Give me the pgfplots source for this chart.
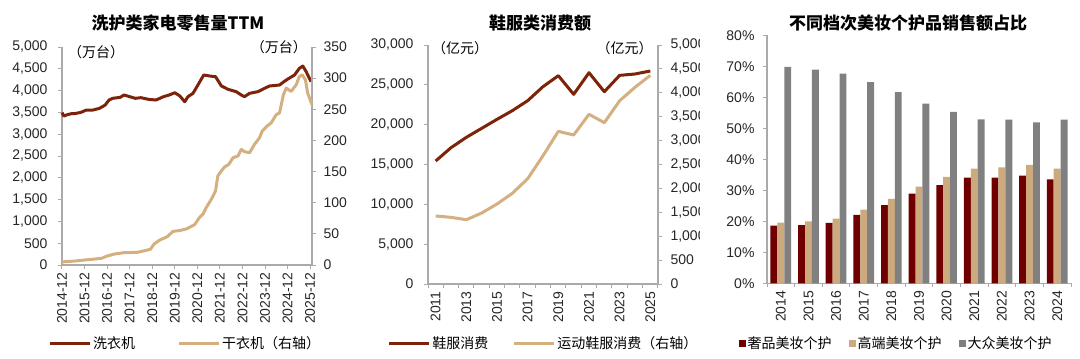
\documentclass[border=0pt]{standalone}
\usepackage{fontspec}
\setmainfont{Liberation Sans}
\newfontfamily\cjk{Noto Sans CJK SC}
\usepackage{pgfplots}
\pgfplotsset{compat=1.18}
\definecolor{brownline}{RGB}{125,35,10}
\definecolor{tanline}{RGB}{212,176,128}
\definecolor{axisgray}{RGB}{170,170,170}
\definecolor{lux}{RGB}{112,0,0}
\definecolor{high}{RGB}{204,170,125}
\definecolor{mass}{RGB}{128,128,128}
\pgfplotsset{
  base/.style={scale only axis, clip=false,
    axis line style={axisgray, line width=1.2pt},
    tick style={axisgray, line width=1pt},
    major tick length=4pt, minor tick length=4pt, tick align=outside,
    ticklabel style={font=\fontsize{14}{16}\selectfont, text=black!85},
    /pgf/number format/assume math mode=true,
    /pgf/number format/1000 sep={,},
    scaled y ticks=false},
  linelegend/.style={legend image code/.code={\draw[##1] (0pt,0pt) -- (40pt,0pt);}},
}
\begin{document}
\begin{tikzpicture}
\useasboundingbox (0,0) rectangle (1080pt,-359pt);
% ---------------- Panel 1 ----------------
\node[font=\cjk\bfseries\fontsize{17}{20}\selectfont] at (178pt,-23pt) {洗护类家电零售量TTM};
\begin{axis}[base, at={(62pt,-265pt)}, anchor=south west, width=250pt, height=218pt,
  xmin=0, xmax=133, ymin=0, ymax=5000,
  axis x line*=bottom, axis y line*=left,
  ytick={0,500,...,5000}, yticklabel style={xshift=-7pt},
  xtick={0,12,...,132},
  xticklabels={2014-12,2015-12,2016-12,2017-12,2018-12,2019-12,2020-12,2021-12,2022-12,2023-12,2024-12,2025-12},
  xticklabel style={rotate=90, anchor=east}]
\addplot[brownline, line width=3pt, line join=round] coordinates {
(0,3495)(1,3417)(3,3450)(5,3470)(7,3475)(10,3500)(13,3555)(16,3550)(20,3594)(23,3670)
(25,3784)(27,3823)(31,3846)(33,3899)(36,3861)(39,3823)(42,3838)(46,3800)(50,3784)(54,3861)
(57,3899)(60,3952)(62.6,3880)(65.3,3745)(67,3861)(69.7,3938)(72.3,4128)(75.4,4358)(78.6,4335)(81.7,4319)
(84.8,4106)(88.3,4030)(92.7,3975)(95.4,3899)(97.1,3861)(99.8,3938)(104.2,3975)(107.7,4052)(110.4,4106)(115.7,4128)
(119.3,4243)(123.7,4358)(126.3,4511)(128.1,4564)(129.9,4434)(132.5,4204)};
\node[anchor=west, font=\cjk\fontsize{14}{16}\selectfont, inner sep=0pt] at (rel axis cs:0.024,0.977) {（万台）};
\end{axis}
\begin{axis}[base, at={(62pt,-265pt)}, anchor=south west, width=250pt, height=218pt,
  xmin=0, xmax=133, ymin=0, ymax=350,
  axis x line=none, axis y line*=right,
  ytick={0,50,...,350}, yticklabel style={xshift=4pt},
  linelegend,
  legend style={draw=none, fill=none, at={(-0.056,-0.358)}, anchor=west, inner sep=0pt,
    font=\cjk\fontsize{14}{16}\selectfont, nodes={inner sep=2pt}},
  legend columns=2, legend cell align=left,
  legend style={/tikz/every even column/.append style={column sep=40pt}}]
\addlegendimage{brownline, line width=3pt}
\addlegendentry{洗衣机}
\addplot[tanline, line width=3pt, line join=round] coordinates {
(0,5)(7,6.4)(12,8)(17.5,9.6)(21,10.7)(24,14.4)(28,17.7)(33,19.8)(40,20.3)(44,23)
(47,25.2)(49,33.7)(52,40.1)(56,45.4)(59,54)(62.6,55.3)(66.2,57.9)(70.6,64.9)(73.2,76.6)(75,81.9)
(76.8,92.5)(79.5,105.8)(81.7,119.1)(82.9,143.1)(84.8,151)(86.5,157.4)(88.8,161.7)(91,172.3)(93.6,175)(95.4,185.6)
(97.1,181.9)(99.8,180.3)(102.4,193.6)(105.1,204.3)(106.5,214.9)(109,222.9)(111.3,228.2)(114,241.5)(115.7,244.1)(117.8,273.4)
(119.3,284)(121.9,278.7)(124.6,289.4)(126.3,302.7)(127.8,305.3)(129.5,297.3)(130.7,276.1)(133,257.4)};
\addlegendentry{干衣机（右轴）}
\node[anchor=east, font=\cjk\fontsize{14}{16}\selectfont, inner sep=0pt] at (rel axis cs:0.98,1.0) {（万台）};
\end{axis}
% ---------------- Panel 2 ----------------
\node[font=\cjk\bfseries\fontsize{17}{20}\selectfont] at (540pt,-23pt) {鞋服类消费额};
\begin{axis}[base, at={(428pt,-284pt)}, anchor=south west, width=230pt, height=239pt,
  xmin=2010.5, xmax=2025.5, ymin=0, ymax=30000,
  axis x line*=bottom, axis y line*=left,
  ytick={0,5000,...,30000}, yticklabel style={xshift=-7pt},
  xtick={2010.5,2011.5,...,2025.5}, x tick label as interval,
  xticklabels={2011,,2013,,2015,,2017,,2019,,2021,,2023,,2025},
  xticklabel style={rotate=90, anchor=east, yshift=0pt}]
\addplot[brownline, line width=3pt, line join=round] coordinates {
(2011,15440)(2012,17110)(2013,18410)(2014,19540)(2015,20670)(2016,21760)(2017,23010)(2018,24770)
(2019,26150)(2020,23810)(2021,26520)(2022,24140)(2023,26190)(2024,26360)(2025,26740)};
\node[anchor=west, font=\cjk\fontsize{14}{16}\selectfont, inner sep=0pt] at (rel axis cs:0.017,0.986) {（亿元）};
\end{axis}
\begin{axis}[base, at={(428pt,-284pt)}, anchor=south west, width=230pt, height=239pt,
  xmin=2010.5, xmax=2025.5, ymin=0, ymax=5000,
  axis x line=none, axis y line*=right,
  ytick={0,500,...,5000}, yticklabel style={xshift=5pt},
  linelegend,
  legend style={draw=none, fill=none, at={(-0.178,-0.247)}, anchor=west, inner sep=0pt,
    font=\cjk\fontsize{14}{16}\selectfont, nodes={inner sep=2pt}},
  legend columns=2, legend cell align=left,
  legend style={/tikz/every even column/.append style={column sep=22pt}}]
\addlegendimage{brownline, line width=3pt}
\addlegendentry{鞋服消费}
\addplot[tanline, line width=3pt, line join=round] coordinates {
(2011,1423)(2012,1395)(2013,1345)(2014,1485)(2015,1674)(2016,1897)(2017,2203)(2018,2684)
(2019,3194)(2020,3117)(2021,3550)(2022,3375)(2023,3835)(2024,4115)(2025,4366)};
\addlegendentry{运动鞋服消费（右轴）}
\node[anchor=east, font=\cjk\fontsize{14}{16}\selectfont, inner sep=0pt] at (rel axis cs:0.978,0.986) {（亿元）};
\end{axis}
% ---------------- Panel 3 ----------------
\fill[white] (700pt,0pt) rectangle (1080pt,-359pt);
\node[font=\cjk\bfseries\fontsize{17}{20}\selectfont] at (908pt,-23pt) {不同档次美妆个护品销售额占比};
\begin{axis}[base, at={(767pt,-283.3pt)}, anchor=south west, width=304pt, height=248pt,
  xmin=-0.5, xmax=10.5, ymin=0, ymax=80,
  axis x line*=bottom, axis y line*=left,
  ytick={0,10,...,80}, yticklabel={\pgfmathprintnumber{\tick}\%}, yticklabel style={xshift=-5pt},
  xtick={-0.5,0.5,...,10.5}, x tick label as interval,
  xticklabels={2014,2015,2016,2017,2018,2019,2020,2021,2022,2023,2024},
  xticklabel style={rotate=90, anchor=east},
  ybar=0pt, bar width=6.9pt,
  legend style={draw=none, fill=none, at={(-0.092,-0.241)}, anchor=west, inner sep=0pt,
    font=\cjk\fontsize{14}{16}\selectfont, nodes={inner sep=1.5pt}},
  legend columns=3, legend cell align=left,
  legend style={/tikz/every even column/.append style={column sep=16pt}}]
\addplot[fill=lux, draw=none, legend image code/.code={\fill[lux] (0pt,-3.5pt) rectangle (7pt,3.5pt);}] coordinates {
(0,18.6)(1,18.8)(2,19.5)(3,22.1)(4,25.2)(5,28.9)(6,31.7)(7,34.1)(8,34.1)(9,34.7)(10,33.5)};
\addlegendentry{奢品美妆个护}
\addplot[fill=high, draw=none, legend image code/.code={\fill[high] (0pt,-3.5pt) rectangle (7pt,3.5pt);}] coordinates {
(0,19.6)(1,20.0)(2,20.9)(3,23.8)(4,27.2)(5,31.2)(6,34.3)(7,37.0)(8,37.4)(9,38.2)(10,37.0)};
\addlegendentry{高端美妆个护}
\addplot[fill=mass, draw=none, legend image code/.code={\fill[mass] (0pt,-3.5pt) rectangle (7pt,3.5pt);}] coordinates {
(0,69.8)(1,68.9)(2,67.6)(3,64.9)(4,61.7)(5,58.0)(6,55.3)(7,52.9)(8,52.8)(9,51.9)(10,52.8)};
\addlegendentry{大众美妆个护}
\end{axis}
\end{tikzpicture}
\end{document}
